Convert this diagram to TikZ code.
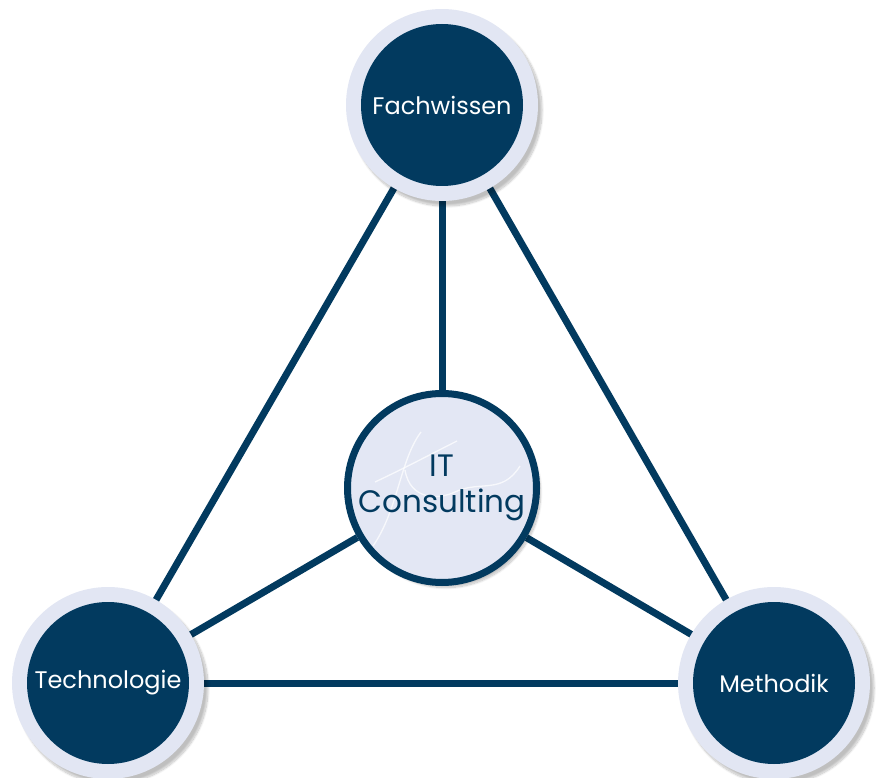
\documentclass[tikz,border=0pt]{standalone}
\usepackage{fontspec}
\setmainfont{Poppins}
\usetikzlibrary{backgrounds,shadows.blur}
\definecolor{navy}{HTML}{023A5F}
\definecolor{ringgray}{HTML}{E2E6F3}
\definecolor{corefill}{HTML}{E3E7F4}
\begin{document}
\begin{tikzpicture}[x=1pt,y=-1pt,
    ring/.style={circle, fill=ringgray, minimum size=192pt, inner sep=0pt,
      blur shadow={shadow xshift=4pt, shadow yshift=-5pt, shadow blur steps=12, shadow opacity=25}},
    pillar/.style={circle, fill=navy, minimum size=162pt, inner sep=0pt,
      text=white, font=\fontsize{24}{28}\selectfont},
    core/.style={circle, fill=corefill, draw=navy, line width=7pt, minimum size=189pt,
      inner sep=0pt,
      blur shadow={shadow xshift=4pt, shadow yshift=-5pt, shadow blur steps=12, shadow opacity=25}},
    link/.style={draw=navy, line width=7pt}]
    \useasboundingbox (0,0) rectangle (884,778);

    % Draw the outer circles
    \node[ring] (fachring) at (442,105) {};
    \node[pillar] (fach) at (442,105) {Fachwissen};
    \node[ring] (techring) at (108,683) {};
    \node[pillar] (tech) at (108,683) {Technologie};
    \node[ring] (methring) at (774,683) {};
    \node[pillar] (meth) at (774,683) {Methodik};

    % Draw the centre circle
    \node[core] (it) at (442,488) {};
    \begin{scope}[white, line width=1.3pt, opacity=0.75]
      \draw (421,432) .. controls (400,460) and (398,510) .. (373,546);
      \draw (375,482) .. controls (405,468) and (435,452) .. (457,441);
      \draw (405,470) .. controls (410,500) and (438,500) .. (455,492)
        .. controls (480,480) and (502,495) .. (520,466);
    \end{scope}
    \node[text=navy, align=center, font=\fontsize{31}{36}\selectfont] (itlabel) at (it.center) {IT\\Consulting};

    % Draw the connecting lines
    \begin{scope}[on background layer]
      \draw[link] (fach) -- (it);
      \draw[link] (fach) -- (tech);
      \draw[link] (fach) -- (meth);
      \draw[link] (tech) -- (meth);
      \draw[link] (tech) -- (it);
      \draw[link] (meth) -- (it);
    \end{scope}
  \end{tikzpicture}
\end{document}
